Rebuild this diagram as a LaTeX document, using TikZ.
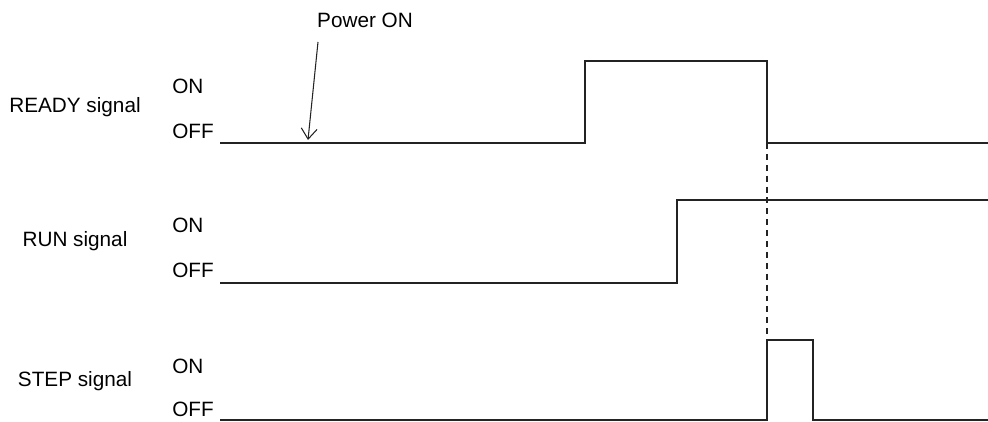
\documentclass[tikz,border=0pt]{standalone}
\usepackage{fontspec}
\setmainfont{Liberation Sans}
\usepackage{tikz}
\usetikzlibrary{arrows.meta,positioning}
\definecolor{SigGray}{RGB}{35,35,35}

\begin{document}
\begin{tikzpicture}[x=0.02cm, y=-0.02cm, font=\fontsize{11.8}{14}\selectfont,
	sig/.style={line width=1.1pt, SigGray},
	lvl/.style={anchor=west, inner sep=0pt},
	signame/.style={anchor=center, inner sep=0pt}]
			\useasboundingbox (0,0) rectangle (988,422);
			% signal names
			\node[signame] (ready) at (75,107) {READY signal};
			\node[signame] (run) at (75,241) {RUN signal};
			\node[signame] (step) at (75,381) {STEP signal};
			\foreach \n/\on/\off in {r/86/131, u/225/270, s/366/409} {
				\node[lvl] (on\n) at (172,\on) {ON};
				\node[lvl] (off\n) at (172,\off) {OFF};
			}
			% waveforms
			\draw[sig] (220,143) -- (585,143) -- (585,61) -- (767,61) -- (767,143) coordinate (rfall) -- (988,143);
			\draw[sig] (220,283) -- (677,283) -- (677,200) -- (988,200);
			\draw[sig] (220,420) -- (767,420) -- (767,340) coordinate (srise) -- (813,340) -- (813,420) -- (988,420);
			\draw[line width=1.3pt, dash pattern=on 3.4pt off 2.8pt, SigGray] (rfall) -- (srise);
			% power on
			\node (pwr) at (365,20) {Power ON};
			\coordinate (pwrtail) at (318,42);
			\coordinate (pwrtip) at (308,140);
			\draw[-{Straight Barb[length=6pt,width=9pt]}, line width=0.6pt, SigGray] (pwrtail) -- (pwrtip);
		\end{tikzpicture}
\end{document}
